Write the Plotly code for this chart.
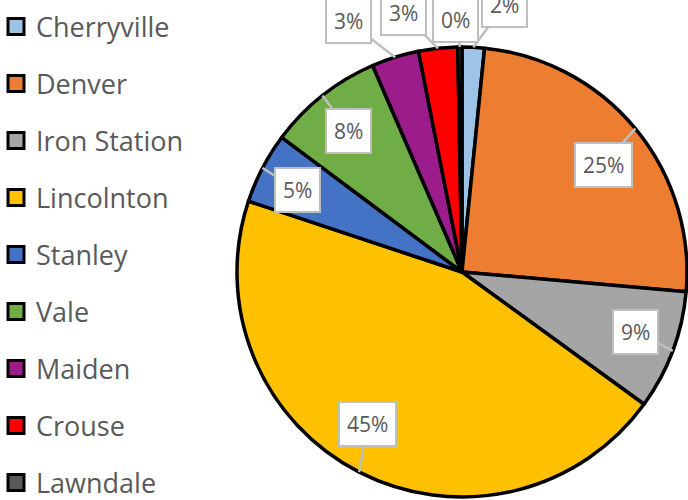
import math
import plotly.graph_objects as go

# ---------------- data ----------------
towns = ["Cherryville", "Denver", "Iron Station", "Lincolnton", "Stanley",
         "Vale", "Maiden", "Crouse", "Lawndale"]
shares = [1.6, 24.8, 8.6, 45.1, 5.1, 8.3, 3.4, 2.8, 0.3]

# ---------------- style ----------------
colors = ["#9DC3E6", "#ED7D31", "#A5A5A5", "#FFC000", "#4472C4",
          "#70AD47", "#9C1C8C", "#FF0000", "#595959"]
# pixel offset of each callout box from its pointer tip (label placement)
label_offsets = [(31, -42), (-32, 36), (-37, -19), (8, -48), (35, 22),
                 (26, 35), (-47, -36), (-35, -35), (-4, -27)]

W, H = 688, 500
CX, CY, R = 462, 272, 225          # pie centre / radius in pixels
LEG_TOP, LEG_STEP = 27, 57         # legend row centre / spacing in pixels
TEXT = "#595959"
FONT = "Open Sans"

fig = go.Figure()
fig.add_trace(go.Pie(
    labels=towns, values=shares, sort=False, direction="clockwise", rotation=0,
    marker=dict(colors=colors, line=dict(color="black", width=3.5)),
    textinfo="none", hoverinfo="label+percent", showlegend=False,
    domain=dict(x=[(CX - R) / W, (CX + R) / W], y=[1 - (CY + R) / H, 1 - (CY - R) / H]),
))

# legend entries (one legend box per town so rows can be spaced like the original)
legend_layouts = {}
for i, (t, c) in enumerate(zip(towns, colors)):
    key = "legend" if i == 0 else f"legend{i + 1}"
    fig.add_trace(go.Scatter(
        x=[None], y=[None], mode="markers", name=t, legend=key,
        marker=dict(symbol="square", size=16, color=c, line=dict(color="black", width=3)),
    ))
    legend_layouts[key] = dict(
        x=-4 / W, y=1 - (LEG_TOP + LEG_STEP * i) / H, xanchor="left", yanchor="middle",
        font=dict(family=FONT, size=27, color=TEXT),
        itemclick=False, itemdoubleclick=False, bgcolor="rgba(0,0,0,0)", borderwidth=0,
    )

# callout labels, pointer tips derived from the data
total = sum(shares)
cum = 0.0
for v, (ax, ay) in zip(shares, label_offsets):
    mid = 2 * math.pi * (cum + v / 2) / total
    cum += v
    px = CX + R * math.sin(mid)
    py = CY - R * math.cos(mid)
    fig.add_annotation(
        x=px / W, y=1 - py / H, xref="paper", yref="paper",
        text=f"{round(100 * v / total):.0f}%", showarrow=True,
        ax=ax, ay=ay, arrowhead=0, arrowwidth=2.5, arrowcolor="#BFBFBF", standoff=0,
        font=dict(family=FONT, size=21, color=TEXT),
        bgcolor="white", bordercolor="#BFBFBF", borderwidth=2, borderpad=7,
    )

fig.update_layout(
    width=W, height=H, margin=dict(l=0, r=0, t=0, b=0, autoexpand=False),
    paper_bgcolor="white", plot_bgcolor="white",
    xaxis=dict(visible=False), yaxis=dict(visible=False),
    showlegend=True,
    **legend_layouts,
)

fig.write_html("out.html", config={"displayModeBar": False},
               post_script="document.body.style.margin='0';")
